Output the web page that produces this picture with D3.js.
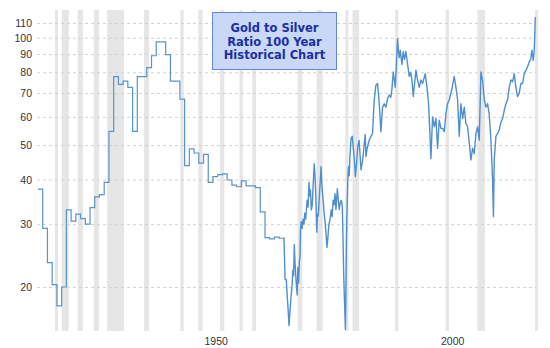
<!DOCTYPE html>
<html>
<head>
<meta charset="utf-8">
<script src="https://cdn.jsdelivr.net/npm/d3@7"></script>
<style>
  body { margin: 0; background: #fff; }
  svg { display: block; }
</style>
</head>
<body>
<svg id="chart" width="550" height="348"></svg>
<script>
// annual averages, drawn as steps (1915 - 1966)
const annualYears = d3.range(1915, 1967);
const annualRatio = [
  37.6, 29.2, 23.4, 20.3, 17.7, 20.0, 32.9, 30.6, 32.0, 31.1,
  30.0, 33.4, 35.8, 36.3, 39.3, 54.6, 77.8, 74.0, 75.6, 72.6,
  54.6, 77.8, 77.8, 82.4, 89.0, 97.3, 97.3, 89.7, 75.6, 75.6,
  67.3, 43.8, 48.8, 47.5, 44.5, 47.1, 39.3, 40.8, 41.3, 41.5,
  39.9, 38.6, 38.2, 39.7, 38.4, 38.4, 38.0, 32.5, 27.5, 27.3,
  27.6, 27.4
];

// later market data (decimal years)
const marketDates = [
  1967.00, 1967.25, 1967.5, 1967.7, 1967.9, 1968.07, 1968.3, 1968.5, 1968.7, 1968.9,
  1969.05, 1969.2, 1969.35, 1969.55, 1969.8, 1969.95, 1970.1, 1970.25, 1970.4, 1970.5,
  1970.65, 1970.85, 1971.05, 1971.25, 1971.4, 1971.6, 1971.9, 1972.1, 1972.3, 1972.45,
  1972.6, 1972.8, 1973.0, 1973.1, 1973.4, 1973.6, 1973.75, 1973.95, 1974.1, 1974.25,
  1974.45, 1974.6, 1974.75, 1974.85, 1975.05, 1975.3, 1975.5, 1975.75, 1976.0, 1976.1,
  1976.3, 1976.5, 1976.75, 1977.0, 1977.2, 1977.4, 1977.6, 1977.8, 1978.0, 1978.3,
  1978.5, 1978.7, 1978.9, 1979.15, 1979.35, 1979.5, 1979.65, 1979.8, 1980.0, 1980.1,
  1980.2, 1980.3, 1980.4, 1980.5, 1980.65, 1980.8, 1980.95, 1981.2, 1981.45, 1981.7,
  1981.95, 1982.1, 1982.3, 1982.6, 1982.9, 1983.3, 1983.6, 1983.8, 1984.05, 1984.2,
  1984.35, 1984.6, 1985.04, 1985.4, 1985.75, 1985.9, 1986.1, 1986.45, 1986.8, 1987.05,
  1987.3, 1987.5, 1987.86, 1988.2, 1988.57, 1988.92, 1989.27, 1989.6, 1989.84, 1990.12,
  1990.35, 1990.54, 1990.8, 1991.03, 1991.25, 1991.4, 1991.6, 1991.95, 1992.23, 1992.5,
  1992.8, 1993.15, 1993.5, 1993.8, 1994.07, 1994.35, 1994.91, 1995.26, 1995.62, 1995.97,
  1996.32, 1996.88, 1997.24, 1997.59, 1997.87, 1998.08, 1998.43, 1998.79, 1999.14, 1999.49,
  1999.84, 2000.2, 2000.55, 2000.9, 2001.25, 2001.6, 2001.96, 2002.52, 2003.0, 2003.37,
  2003.72, 2004.07, 2004.42, 2004.78, 2005.13, 2005.48, 2005.83, 2006.19, 2006.54, 2006.89,
  2007.24, 2007.6, 2007.95, 2008.3, 2008.65, 2009.0, 2009.36, 2009.71, 2010.06, 2010.4,
  2010.77, 2011.12, 2011.3, 2011.47, 2011.82, 2012.18, 2012.53, 2012.88, 2013.23, 2013.59,
  2013.94, 2014.29, 2014.64, 2015.0, 2015.35, 2015.7, 2016.05, 2016.4, 2016.76, 2017.1,
  2017.46, 2017.81, 2018.17, 2018.52, 2018.87, 2019.22, 2019.43, 2019.72, 2019.93, 2020.15
];
const marketRatio = [
  27.5, 21.0, 21.0, 18.8, 17.2, 15.6, 17.2, 18.8, 20.0, 22.3,
  21.5, 26.3, 23.3, 21.0, 19.0, 22.7, 20.5, 23.4, 24.4, 28.9,
  30.5, 29.2, 31.0, 30.0, 32.2, 31.0, 35.0, 33.5, 39.3, 36.0,
  37.5, 32.9, 34.0, 36.6, 44.3, 40.4, 35.5, 28.5, 32.0, 31.6,
  35.0, 38.0, 40.8, 43.5, 38.1, 35.0, 32.2, 30.0, 27.0, 25.8,
  27.6, 29.9, 31.0, 32.9, 31.5, 35.0, 34.0, 36.5, 33.0, 37.7,
  35.0, 33.0, 34.5, 35.0, 33.5, 27.0, 21.4, 18.4, 15.2, 19.3,
  25.8, 31.0, 35.0, 39.9, 43.5, 41.0, 46.3, 52.2, 52.9, 48.6,
  44.4, 40.8, 43.5, 49.4, 51.5, 42.6, 45.0, 47.4, 51.5, 53.5,
  46.4, 49.0, 51.6, 52.9, 53.9, 60.0, 67.0, 73.6, 74.4, 68.0,
  61.2, 54.5, 63.9, 65.3, 63.9, 67.6, 69.1, 68.0, 71.8, 80.2,
  76.0, 72.6, 85.0, 99.4, 90.6, 88.0, 92.3, 84.2, 91.5, 87.0,
  91.5, 84.2, 77.9, 80.0, 76.1, 68.4, 81.1, 76.1, 72.6, 76.1,
  74.4, 79.3, 72.6, 65.3, 53.9, 45.8, 60.0, 56.3, 59.3, 49.0,
  58.7, 55.7, 55.7, 54.5, 61.2, 65.3, 67.0, 71.8, 77.9, 72.6,
  67.0, 52.9, 65.3, 59.3, 63.9, 57.5, 56.3, 50.7, 45.4, 49.0,
  47.3, 53.9, 56.3, 51.6, 80.2, 76.1, 67.0, 63.9, 65.3, 61.2,
  51.6, 39.9, 31.5, 45.4, 52.9, 53.9, 55.2, 58.0, 59.3, 62.6,
  65.3, 67.0, 72.6, 76.1, 75.3, 79.3, 72.6, 68.4, 70.0, 74.4,
  74.4, 79.3, 81.0, 82.9, 85.6, 87.3, 92.3, 86.4, 92.3, 114.3
];

// US recessions (start, end as decimal years)
const recessionStart = [1918.6, 1920.0, 1923.4, 1926.8, 1929.6, 1937.4, 1945.1, 1948.9, 1953.5, 1957.6,
  1960.3, 1969.9, 1973.9, 1980.0, 1981.5, 1990.5, 2001.2, 2007.9, 2020.1];
const recessionEnd = [1919.2, 1921.5, 1924.5, 1927.9, 1933.2, 1938.5, 1945.8, 1949.8, 1954.4, 1958.3,
  1961.1, 1970.9, 1975.2, 1980.5, 1982.9, 1991.2, 2001.9, 2009.5, 2020.3];

const yTicks = [20, 30, 40, 50, 60, 70, 80, 90, 100, 110];
const xTicks = [1950, 2000];
const titleLines = ["Gold to Silver", "Ratio 100 Year", "Historical Chart"];

const svg = d3.select("#chart");
const W = 550, H = 348;

const x = d3.scaleLinear().domain([1915, 2020.3]).range([38, 536]);
const y = d3.scaleLog().domain([15.15, 119.6]).range([330, 10]);

svg.append("rect").attr("width", W).attr("height", H).attr("fill", "#fff");

// recession bands
svg.append("g").selectAll("rect")
  .data(recessionStart)
  .join("rect")
  .attr("x", (d, i) => x(d))
  .attr("width", (d, i) => Math.max(3, x(recessionEnd[i]) - x(d)))
  .attr("y", y.range()[1])
  .attr("height", y.range()[0] - y.range()[1] + 1)
  .attr("fill", "#e6e6e6");

// horizontal grid + labels
const yAxis = d3.axisLeft(y).tickValues(yTicks).tickFormat(d3.format("d"))
  .tickSize(-(x.range()[1] - x.range()[0] + 1)).tickPadding(5);
const gy = svg.append("g").attr("transform", `translate(${x.range()[0] - 1},0)`).call(yAxis);
gy.select(".domain").remove();
gy.selectAll(".tick line").attr("stroke", "#d2d2d2").attr("stroke-dasharray", "3,3");
gy.selectAll(".tick text").attr("fill", "#333")
  .style("font-family", "'Liberation Sans', Arial, sans-serif").style("font-size", "10.5px");

// year labels
svg.append("g").selectAll("text")
  .data(xTicks)
  .join("text")
  .attr("x", d => x(d) + 1)
  .attr("y", 345)
  .attr("fill", "#333")
  .style("font-family", "'Liberation Sans', Arial, sans-serif")
  .style("font-size", "10.5px")
  .text(d => d);

// annual steps
const stepData = annualYears.map((d, i) => [d, annualRatio[i]]);
stepData.push([marketDates[0], marketRatio[0]]);
const stepLine = d3.line().x(d => x(d[0])).y(d => y(d[1])).curve(d3.curveStepAfter);
svg.append("path")
  .attr("d", stepLine(stepData))
  .attr("fill", "none")
  .attr("stroke", "#5a93c8")
  .attr("stroke-width", 1.2);

// market line
const marketData = marketDates.map((d, i) => [d, marketRatio[i]]);
const line = d3.line().x(d => x(d[0])).y(d => y(d[1]));
svg.append("path")
  .attr("d", line(marketData))
  .attr("fill", "none")
  .attr("stroke", "#4f8fcf")
  .attr("stroke-width", 1.4)
  .attr("stroke-linejoin", "round");

// title box
const box = svg.append("g");
box.append("rect")
  .attr("x", 212.5).attr("y", 12.5).attr("width", 124).attr("height", 57)
  .attr("fill", "#c9d8f7").attr("stroke", "#6486d6").attr("stroke-width", 1);
box.selectAll("text")
  .data(titleLines)
  .join("text")
  .attr("x", 274.5)
  .attr("y", (d, i) => 32 + i * 13.5)
  .attr("text-anchor", "middle")
  .attr("fill", "#1b2fa6")
  .style("font-family", "'DejaVu Sans', Verdana, sans-serif")
  .style("font-weight", "bold")
  .style("font-size", "11.5px")
  .text(d => d);
</script>
</body>
</html>
